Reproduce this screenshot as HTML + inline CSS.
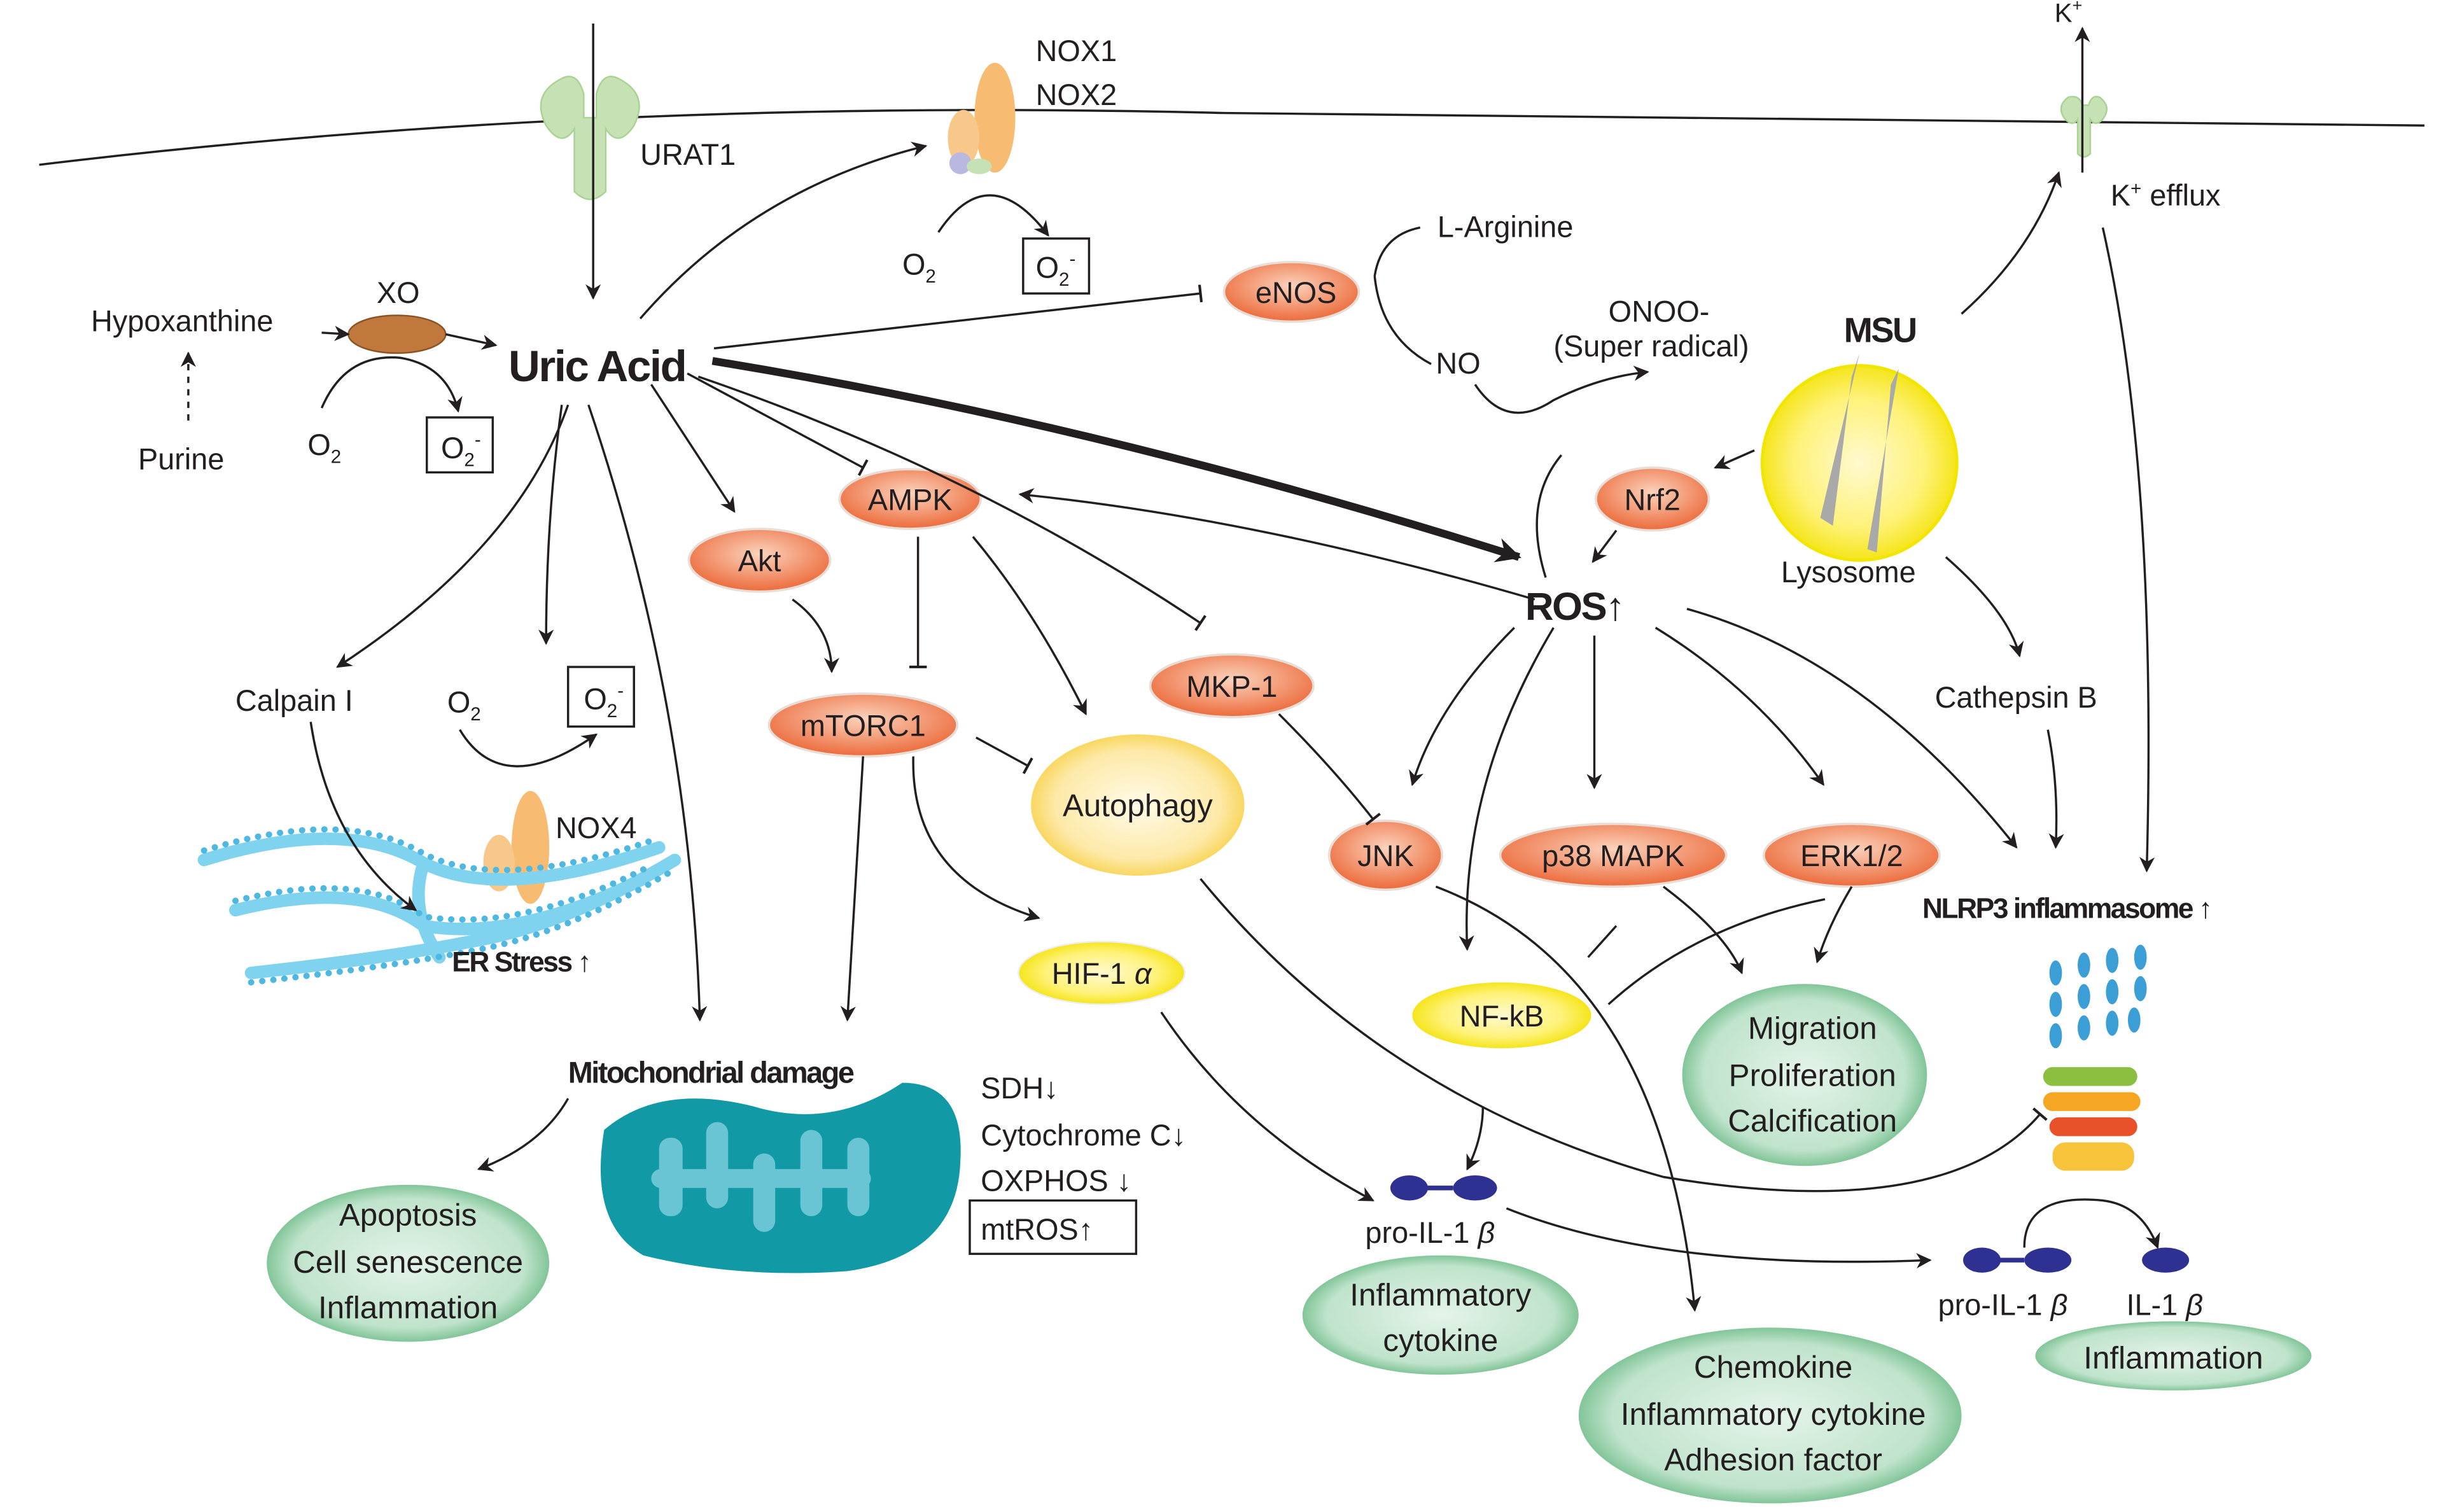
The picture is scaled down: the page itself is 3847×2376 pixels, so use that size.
<!DOCTYPE html>
<html><head><meta charset="utf-8"><style>
html,body{margin:0;padding:0;background:#fff}
svg{display:block}
text{font-family:"Liberation Sans",sans-serif;fill:#231f20}
</style></head><body>
<svg width="3847" height="2376" viewBox="0 0 1560 963.5" preserveAspectRatio="none" xmlns="http://www.w3.org/2000/svg">
<defs>
<marker id="a" viewBox="0 0 10 10" refX="9" refY="5" markerWidth="7" markerHeight="7" orient="auto"><path d="M0,0 L10,5 L0,10 L3,5z" fill="#231f20"/></marker>
<marker id="b" viewBox="0 0 10 10" refX="9" refY="5" markerWidth="18" markerHeight="16" markerUnits="userSpaceOnUse" orient="auto"><path d="M0,0 L10,5 L0,10 L3,5z" fill="#231f20"/></marker>
<marker id="t" viewBox="0 0 10 10" refX="5" refY="5" markerWidth="8" markerHeight="8" orient="auto"><path d="M5,0 L5,10" stroke="#231f20" stroke-width="1.5"/></marker>
<radialGradient id="og" cx="50%" cy="40%" r="60%"><stop offset="0" stop-color="#fbd3bd"/><stop offset="1" stop-color="#ec6a3a"/></radialGradient>
<radialGradient id="yg" cx="50%" cy="50%" r="55%"><stop offset="0" stop-color="#fffbe8"/><stop offset=".7" stop-color="#fde9a8"/><stop offset="1" stop-color="#f7cf40"/></radialGradient>
<radialGradient id="yy" cx="50%" cy="50%" r="55%"><stop offset="0" stop-color="#fff9d0"/><stop offset=".6" stop-color="#fff27a"/><stop offset="1" stop-color="#f2e100"/></radialGradient>
<radialGradient id="gg" cx="50%" cy="50%" r="55%"><stop offset="0" stop-color="#e5f4ea"/><stop offset=".75" stop-color="#bfe3cb"/><stop offset="1" stop-color="#5fb47c"/></radialGradient>
</defs>
<g fill="none" stroke="#231f20" stroke-width="1.4">
<path d="M25,105 Q380,62 780,72 Q1200,76 1545,80"/>
</g>
<!-- URAT1 -->
<g fill="#c6e2b4" stroke="#a9d294">
<path d="M358,50 q-20,10 -10,30 q10,15 18,2 v40 q10,10 20,0 v-40 q8,13 18,-2 q10,-20 -10,-30 q-10,-5 -14,10 v15 h-8 v-15 q-4,-15 -14,-10z"/>
</g>
<!-- K channel -->
<g fill="#c6e2b4" stroke="#a9d294"><path d="M1318,62 q-8,6 -2,14 q5,5 8,0 v22 q4,4 8,0 v-22 q3,5 8,0 q6,-8 -2,-14 q-5,-2 -7,5 h-4 q-2,-7 -9,-5z"/></g>
<!-- NOX1/2 -->
<ellipse cx="634" cy="75" rx="13" ry="35" fill="#f7bb72"/><ellipse cx="614" cy="88" rx="10" ry="18" fill="#f7c88a"/><circle cx="612" cy="104" r="7" fill="#b9b8e0"/><ellipse cx="624" cy="106" rx="8" ry="5" fill="#c6e2b4"/>
<!-- NOX4 -->
<ellipse cx="338" cy="540" rx="12" ry="36" fill="#f7bb72"/><ellipse cx="318" cy="550" rx="10" ry="18" fill="#f7c88a"/>
<!-- ER -->
<g fill="none" stroke="#7fd3ee" stroke-width="8" stroke-linecap="round">
<path d="M130,548 Q220,520 270,550 Q320,575 420,540"/>
<path d="M150,580 Q230,560 270,590 Q330,600 410,560"/>
<path d="M160,620 Q250,610 300,600 Q360,590 430,548"/>
<path d="M270,550 Q260,580 280,610"/>
</g>
<g fill="none" stroke="#4fb8e0" stroke-width="4" stroke-dasharray="0.1 7" stroke-linecap="round">
<path d="M130,542 Q220,514 270,544 Q320,569 420,534"/>
<path d="M150,574 Q230,554 270,584 Q330,594 410,554"/>
<path d="M160,626 Q250,616 300,606 Q360,596 430,554"/>
</g>
<!-- XO -->
<ellipse cx="253" cy="213" rx="31" ry="12" fill="#c0783c" stroke="#8a5424"/>
<!-- lysosome -->
<circle cx="1185" cy="295" r="62" fill="url(#yy)" stroke="#f2e600" stroke-width="2"/>
<path d="M1185,225 L1160,330 L1168,335 L1180,240z" fill="#a9a9a9"/><path d="M1210,235 L1190,350 L1196,352 L1205,245z" fill="#a9a9a9"/>
<!-- mito -->
<path d="M385,720 Q420,690 480,705 Q530,720 575,690 Q615,690 612,740 Q610,800 540,810 Q470,815 410,800 Q375,780 385,720z" fill="#119aa5"/>
<g fill="#7fd0e0" opacity=".8"><rect x="420" y="725" width="15" height="50" rx="7"/><rect x="450" y="715" width="14" height="55" rx="7"/><rect x="480" y="735" width="14" height="50" rx="7"/><rect x="510" y="720" width="14" height="55" rx="7"/><rect x="540" y="725" width="14" height="50" rx="7"/><rect x="415" y="745" width="140" height="12" rx="6"/></g>
<!-- inflammasome -->
<g fill="#3c9ed6"><ellipse cx="1310" cy="620" rx="4" ry="8"/><ellipse cx="1310" cy="640" rx="4" ry="8"/><ellipse cx="1310" cy="660" rx="4" ry="8"/><ellipse cx="1328" cy="615" rx="4" ry="8"/><ellipse cx="1328" cy="635" rx="4" ry="8"/><ellipse cx="1328" cy="655" rx="4" ry="8"/><ellipse cx="1346" cy="612" rx="4" ry="8"/><ellipse cx="1346" cy="632" rx="4" ry="8"/><ellipse cx="1346" cy="652" rx="4" ry="8"/><ellipse cx="1364" cy="610" rx="4" ry="8"/><ellipse cx="1364" cy="630" rx="4" ry="8"/><ellipse cx="1360" cy="650" rx="4" ry="8"/></g>
<rect x="1302" y="680" width="60" height="12" rx="6" fill="#8cbf3f"/><rect x="1302" y="696" width="62" height="12" rx="6" fill="#f5a623"/><rect x="1306" y="712" width="56" height="12" rx="6" fill="#e8512a"/><rect x="1308" y="728" width="52" height="18" rx="8" fill="#f6c33a"/>
<!-- IL-1b dumbbells -->
<g fill="#2e3192"><ellipse cx="898" cy="757" rx="12" ry="8"/><ellipse cx="940" cy="757" rx="14" ry="8"/><ellipse cx="1263" cy="803" rx="12" ry="8"/><ellipse cx="1305" cy="803" rx="15" ry="8"/><ellipse cx="1380" cy="803" rx="15" ry="8"/></g>
<path d="M908,757 H926 M1273,803 H1290" stroke="#2e3192" stroke-width="3"/>
<!-- orange ellipses -->
<g fill="url(#og)" stroke="#e9ddd6" stroke-width="1.5">
<ellipse cx="823" cy="186" rx="43" ry="19"/><ellipse cx="580" cy="318" rx="45" ry="19"/><ellipse cx="484" cy="357" rx="45" ry="20"/><ellipse cx="550" cy="462" rx="60" ry="20"/><ellipse cx="785" cy="437" rx="52" ry="20"/><ellipse cx="1053" cy="318" rx="36" ry="20"/><ellipse cx="883" cy="545" rx="36" ry="22"/><ellipse cx="1028" cy="545" rx="72" ry="20"/><ellipse cx="1180" cy="545" rx="56" ry="20"/>
</g>
<ellipse cx="725" cy="513" rx="68" ry="45" fill="url(#yg)"/>
<ellipse cx="702" cy="620" rx="53" ry="20" fill="url(#yy)" stroke="#eee" /><ellipse cx="957" cy="647" rx="57" ry="21" fill="url(#yy)"/>
<g fill="url(#gg)"><ellipse cx="260" cy="805" rx="90" ry="50"/><ellipse cx="1150" cy="685" rx="78" ry="58"/><ellipse cx="918" cy="838" rx="88" ry="38"/><ellipse cx="1128" cy="902" rx="122" ry="56"/><ellipse cx="1385" cy="864" rx="88" ry="22"/></g>
<!-- connectors -->
<g fill="none" stroke="#231f20" stroke-width="1.4" marker-end="url(#a)">
<path d="M378,15 V190"/>
<path d="M205,212 L222,213"/><path d="M284,213 L316,220"/>
<path d="M205,260 Q220,225 255,228 Q285,233 292,262"/>
<path d="M598,148 Q630,100 668,150"/>
<path d="M408,203 Q480,120 590,93"/>
<path d="M454,230 Q700,270 968,355" stroke-width="5" marker-end="url(#b)"/>
<path d="M876,176 Q880,215 912,232" marker-end="none"/><path d="M876,176 Q880,150 905,145" marker-end="none"/>
<path d="M940,245 Q960,275 990,255 Q1020,240 1050,237"/>
<path d="M985,368 Q970,320 995,290" marker-end="none"/>
<path d="M1118,287 L1093,298"/><path d="M1030,338 L1015,358"/>
<path d="M1250,200 Q1295,160 1312,110"/>
<path d="M1327,110 V18"/>
<path d="M1340,145 Q1375,300 1368,555"/>
<path d="M1240,355 Q1280,390 1287,418"/>
<path d="M1305,465 Q1312,500 1310,540"/>
<path d="M1075,388 Q1190,420 1285,540"/>
<path d="M978,382 Q800,330 650,315"/>
<path d="M415,245 L468,326"/>
<path d="M362,258 Q330,350 215,425"/>
<path d="M358,258 Q348,330 348,410"/>
<path d="M375,258 Q440,450 446,650"/>
<path d="M198,460 Q210,540 265,580"/>
<path d="M293,465 Q320,510 380,468"/>
<path d="M505,382 Q530,400 530,428"/>
<path d="M550,482 Q545,560 540,650"/>
<path d="M582,482 Q580,560 662,585"/>
<path d="M620,342 Q660,390 692,455"/>
<path d="M362,700 Q345,730 305,745"/>
<path d="M740,645 Q790,720 875,765"/>
<path d="M945,705 Q945,725 935,745"/>
<path d="M960,770 Q1060,810 1230,803"/>
<path d="M1290,795 Q1290,760 1340,765 Q1365,768 1375,795"/>
<path d="M965,400 Q915,450 900,500"/>
<path d="M990,400 Q930,500 935,605"/>
<path d="M1016,405 V502"/>
<path d="M1055,400 Q1120,440 1162,500"/>
<path d="M1060,565 Q1100,595 1110,620"/>
<path d="M1180,565 Q1165,590 1158,613"/>
<path d="M915,565 Q1060,620 1080,835"/>
</g>
<g fill="none" stroke="#231f20" stroke-width="1.4" marker-end="url(#t)">
<path d="M455,222 L765,187"/>
<path d="M438,238 L550,298"/>
<path d="M445,240 Q620,300 765,397"/>
<path d="M585,342 V425"/>
<path d="M622,470 L655,488"/>
<path d="M815,455 Q850,490 875,522"/>
<path d="M765,560 Q880,700 1060,750 Q1240,780 1300,710"/>
</g>
<g fill="none" stroke="#231f20" stroke-width="1.4">
<path d="M120,268 V225" stroke-dasharray="4 4" marker-end="url(#a)"/>
<path d="M1030,590 L1012,610 M1163,573 Q1080,590 1025,640"/>
</g>
<!-- boxes -->
<g fill="none" stroke="#231f20" stroke-width="1.4"><rect x="652" y="152" width="42" height="35"/><rect x="272" y="266" width="42" height="35"/><rect x="362" y="425" width="42" height="38"/><rect x="618" y="765" width="106" height="34"/></g>
<!-- text -->
<g font-size="19">
<text x="408" y="105">URAT1</text>
<text x="660" y="39">NOX1</text><text x="660" y="67">NOX2</text>
<text x="575" y="175">O<tspan font-size="12" dy="5">2</tspan></text>
<text x="660" y="177">O<tspan font-size="12" dy="5">2</tspan><tspan font-size="12" dy="-13">-</tspan></text>
<text x="240" y="193">XO</text>
<text x="58" y="211">Hypoxanthine</text>
<text x="88" y="299">Purine</text>
<text x="196" y="290">O<tspan font-size="12" dy="5">2</tspan></text>
<text x="281" y="292">O<tspan font-size="12" dy="5">2</tspan><tspan font-size="12" dy="-13">-</tspan></text>
<text x="800" y="193">eNOS</text>
<text x="916" y="151">L-Arginine</text>
<text x="915" y="238">NO</text>
<text x="1025" y="205">ONOO-</text><text x="990" y="227">(Super radical)</text>
<text x="1327" y="14" text-anchor="end" font-size="17">K<tspan font-size="11" dy="-7">+</tspan></text>
<text x="1345" y="131">K<tspan font-size="12" dy="-7">+</tspan><tspan dy="7"> efflux</tspan></text>
<text x="1135" y="371">Lysosome</text>
<text x="1053" y="325" text-anchor="middle">Nrf2</text>
<text x="580" y="325" text-anchor="middle">AMPK</text>
<text x="484" y="364" text-anchor="middle">Akt</text>
<text x="550" y="469" text-anchor="middle">mTORC1</text>
<text x="785" y="444" text-anchor="middle">MKP-1</text>
<text x="725" y="520" text-anchor="middle" font-size="20">Autophagy</text>
<text x="883" y="552" text-anchor="middle">JNK</text>
<text x="1028" y="552" text-anchor="middle">p38 MAPK</text>
<text x="1180" y="552" text-anchor="middle">ERK1/2</text>
<text x="702" y="627" text-anchor="middle">HIF-1 <tspan font-style="italic">α</tspan></text>
<text x="957" y="654" text-anchor="middle">NF-kB</text>
<text x="1233" y="451">Cathepsin B</text>
<text x="150" y="453">Calpain I</text>
<text x="285" y="454">O<tspan font-size="12" dy="5">2</tspan></text>
<text x="372" y="452">O<tspan font-size="12" dy="5">2</tspan><tspan font-size="12" dy="-13">-</tspan></text>
<text x="354" y="534">NOX4</text>
<text x="625" y="700">SDH↓</text><text x="625" y="730">Cytochrome C↓</text><text x="625" y="759">OXPHOS ↓</text><text x="625" y="790">mtROS↑</text>
<text x="870" y="792">pro-IL-1 <tspan font-style="italic">β</tspan></text>
<text x="1235" y="838">pro-IL-1 <tspan font-style="italic">β</tspan></text>
<text x="1355" y="838">IL-1 <tspan font-style="italic">β</tspan></text>
<g text-anchor="middle" font-size="20">
<text x="260" y="781">Apoptosis</text><text x="260" y="811">Cell senescence</text><text x="260" y="840">Inflammation</text>
<text x="1155" y="662">Migration</text><text x="1155" y="692">Proliferation</text><text x="1155" y="721">Calcification</text>
<text x="918" y="832">Inflammatory</text><text x="918" y="861">cytokine</text>
<text x="1130" y="878">Chemokine</text><text x="1130" y="908">Inflammatory cytokine</text><text x="1130" y="937">Adhesion factor</text>
<text x="1385" y="872">Inflammation</text>
</g>
</g>
<g font-weight="bold" letter-spacing="-1">
<text x="324" y="243" font-size="28">Uric Acid</text>
<text x="1175" y="218" font-size="22">MSU</text>
<text x="972" y="395" font-size="25">ROS↑</text>
<text x="288" y="619" font-size="18">ER Stress ↑</text>
<text x="362" y="690" font-size="19">Mitochondrial damage</text>
<text x="1225" y="585" font-size="18">NLRP3 inflammasome ↑</text>
</g>
</svg>
</body></html>
